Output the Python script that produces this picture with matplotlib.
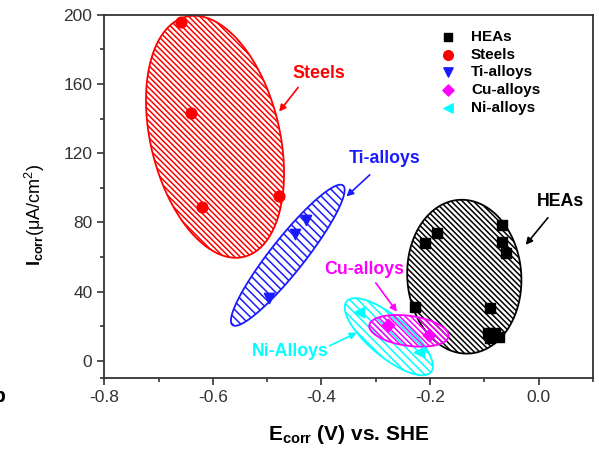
import numpy as np
import matplotlib.pyplot as plt
from matplotlib.patches import Polygon

plt.rcParams['font.family'] = ['Liberation Sans', 'DejaVu Sans']
plt.rcParams['mathtext.fontset'] = 'custom'
plt.rcParams['mathtext.rm'] = 'Liberation Sans'
plt.rcParams['mathtext.bf'] = 'Liberation Sans:bold'
plt.rcParams['hatch.linewidth'] = 1.1

# Data
hea_x = [-0.187, -0.209, -0.067, -0.067, -0.061, -0.228, -0.089, -0.094, -0.080, -0.089, -0.074]
hea_y = [74.0, 68.2, 78.6, 68.8, 62.4, 31.2, 30.6, 16.2, 16.2, 13.3, 13.9]
steel_x = [-0.659, -0.641, -0.620, -0.478]
steel_y = [196, 143, 89, 95]
ti_x = [-0.428, -0.448, -0.496]
ti_y = [81.5, 73.5, 36.4]
cu_x = [-0.278, -0.202]
cu_y = [20.5, 15.0]
ni_x = [-0.330, -0.220]
ni_y = [28.3, 5.0]

# Group ellipses: centre (data), semi-axes (px), angle (deg, screen)
ell_center = {'HEAs': (-0.137, 48.6), 'Steels': (-0.596, 129.5), 'Ti': (-0.462, 61.0),
              'Ni': (-0.276, 13.9), 'Cu': (-0.239, 17.3)}
ell_axes = {'HEAs': (77, 57), 'Steels': (123.5, 64.5), 'Ti': (89, 17),
            'Ni': (55, 20), 'Cu': (40, 15)}
ell_angle = {'HEAs': 94, 'Steels': 103.5, 'Ti': 51.6, 'Ni': -40, 'Cu': -8}
ell_color = {'HEAs': 'black', 'Steels': 'red', 'Ti': '#1a1aff', 'Ni': 'cyan', 'Cu': 'magenta'}
ell_hatch = {'HEAs': '\\' * 6, 'Steels': '\\' * 6, 'Ti': '\\' * 4, 'Ni': '\\' * 4, 'Cu': '\\' * 6}

# Label text positions and arrow (tail, tip) in data units
labels = ['Steels', 'Ti-alloys', 'HEAs', 'Cu-alloys', 'Ni-Alloys']
label_colors = ['red', '#1a1aff', 'black', 'magenta', 'cyan']
label_pos = [(-0.404, 166), (-0.283, 117), (0.041, 92), (-0.322, 52.6), (-0.457, 5.2)]
arrow_tail = [(-0.443, 158), (-0.311, 107.5), (0.017, 82.7), (-0.300, 45), (-0.385, 8.7)]
arrow_tip = [(-0.478, 144), (-0.354, 95), (-0.024, 67), (-0.261, 28.3), (-0.335, 16.2)]

fig = plt.figure(figsize=(5.99, 4.49), dpi=100)
ax = fig.add_axes([0.174, 0.158, 0.816, 0.809])
ax.set_xlim(-0.8, 0.1)
ax.set_ylim(-10, 200)


def ellipse_poly(key):
    cx, cy = ell_center[key]
    a, b = ell_axes[key]
    th = np.deg2rad(ell_angle[key])
    t = np.linspace(0, 2 * np.pi, 200)
    px0, py0 = ax.transData.transform((cx, cy))
    px = px0 + a * np.cos(t) * np.cos(th) - b * np.sin(t) * np.sin(th)
    py = py0 + a * np.cos(t) * np.sin(th) + b * np.sin(t) * np.cos(th)
    return ax.transData.inverted().transform(np.column_stack([px, py]))


for key in ['HEAs', 'Steels', 'Ti', 'Ni', 'Cu']:
    poly = Polygon(ellipse_poly(key), closed=True, facecolor='none',
                   edgecolor=ell_color[key], hatch=ell_hatch[key], lw=1.3, zorder=2)
    ax.add_patch(poly)

ax.scatter(hea_x, hea_y, marker='s', s=45, color='black', label='HEAs', zorder=3)
ax.scatter(steel_x, steel_y, marker='o', s=60, color='red', label='Steels', zorder=3)
ax.scatter(ti_x, ti_y, marker='v', s=55, color='#1a1aff', label='Ti-alloys', zorder=3)
ax.scatter(cu_x, cu_y, marker='D', s=40, color='magenta', label='Cu-alloys', zorder=3)
ax.scatter(ni_x, ni_y, marker='<', s=55, color='cyan', label='Ni-alloys', zorder=3)

# Group labels with arrows
for txt, col, pos, tail, tip in zip(labels, label_colors, label_pos, arrow_tail, arrow_tip):
    ax.text(pos[0], pos[1], txt, color=col, fontsize=12.8, fontweight='bold',
            ha='center', va='center', zorder=4)
    ax.annotate('', xy=tip, xytext=tail,
                arrowprops=dict(arrowstyle='-|>', lw=1.2, mutation_scale=10,
                                shrinkA=0, shrinkB=0, color=col))

ax.legend(loc='upper left', bbox_to_anchor=(0.688, 0.959), frameon=False,
          prop={'weight': 'bold', 'size': 11}, handlelength=1.0, handletextpad=1.0,
          labelspacing=0.25, borderpad=0, borderaxespad=0, scatterpoints=1,
          markerscale=0.9)

ax.set_xticks([-0.8, -0.6, -0.4, -0.2, 0.0])
ax.set_xticks([-0.7, -0.5, -0.3, -0.1, 0.1], minor=True)
ax.set_yticks([0, 40, 80, 120, 160, 200])
ax.set_yticks([-10, 20, 60, 100, 140, 180], minor=True)
ax.set_xticklabels(['-0.8', '-0.6', '-0.4', '-0.2', '0.0'])
ax.tick_params(which='both', direction='out', top=False, right=False,
               labelsize=12.5, colors='#333333', width=1.2)
ax.tick_params(which='major', length=5)
ax.tick_params(which='minor', length=3)
for sp in ax.spines.values():
    sp.set_linewidth(1.3)
    sp.set_color('#333333')

ax.set_xlabel(r'$\mathbf{E}_{\mathbf{corr}}$ (V) vs. SHE', fontsize=15, fontweight='bold')
ax.xaxis.set_label_coords(0.5, -0.124)
ax.set_ylabel(r'$\mathbf{I}_{\mathbf{corr}}$(μA/cm$^2$)', fontsize=13)
ax.yaxis.set_label_coords(-0.118, 0.449)

# partially visible panel letter at the left edge, as in the reference
fig.text(-0.012, 0.116, 'b', fontsize=15, fontweight='bold', va='center')

fig.savefig('out.png', dpi=100)
